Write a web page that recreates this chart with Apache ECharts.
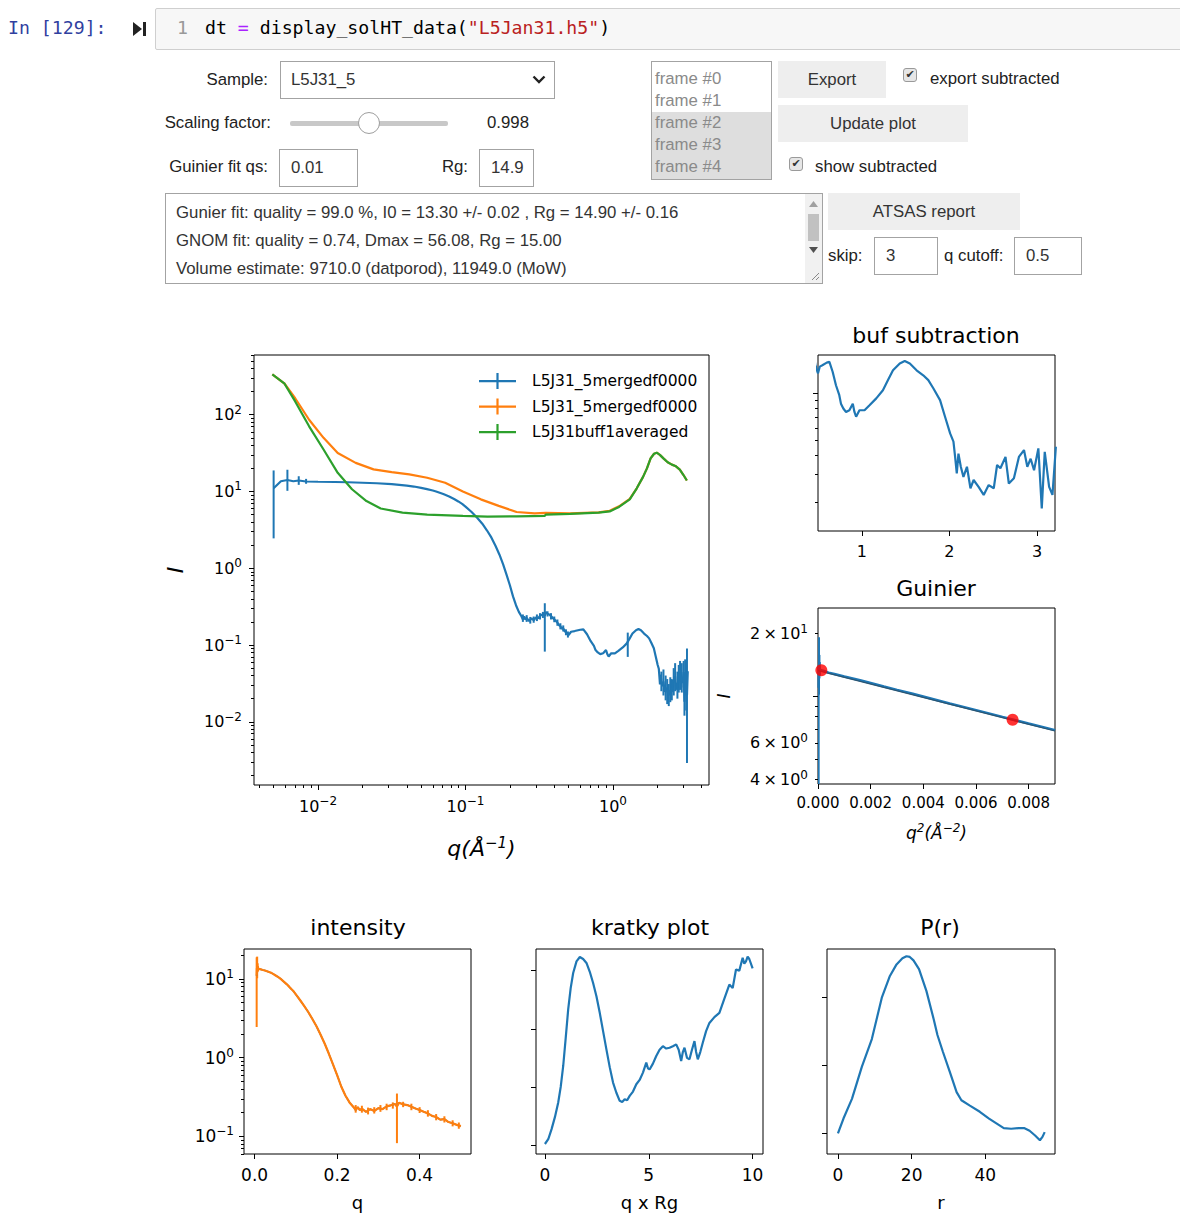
<!DOCTYPE html>
<html><head><meta charset="utf-8">
<script src="https://cdn.jsdelivr.net/npm/echarts@6/dist/echarts.min.js"></script>
<style>
html,body{margin:0;padding:0;background:#fff;width:1180px;height:1213px;overflow:hidden;position:relative}
#chart{position:absolute;left:0;top:0;width:1180px;height:1213px;z-index:0}
.w{position:absolute;font-family:"Liberation Sans",Arial,sans-serif;font-size:16.8px;color:#222;white-space:nowrap;z-index:2;line-height:20px}
.r{text-align:right}
.box{position:absolute;border:1px solid #a3a3a3;background:#fff;box-sizing:border-box;z-index:2;font-family:"Liberation Sans",Arial,sans-serif;font-size:16.8px;color:#333}
.btn{position:absolute;background:#eeeeee;box-sizing:border-box;z-index:2;font-family:"Liberation Sans",Arial,sans-serif;font-size:16.8px;color:#333;text-align:center}
.cb{position:absolute;width:14px;height:14px;box-sizing:border-box;border:1px solid #9a9a9a;border-radius:3px;background:#e6e6e6;z-index:2;font-size:11px;line-height:12px;text-align:center;color:#333;font-family:"DejaVu Sans",sans-serif}
.mono{font-family:"DejaVu Sans Mono",monospace;font-size:18.2px}
</style></head><body>
<div class="w mono" style="left:8px;top:18px;color:#303F9F">In [129]:</div>
<svg style="position:absolute;left:133px;top:22px;z-index:2" width="14" height="14"><path d="M0,0 L9,7 L0,14 Z" fill="#222"/><rect x="10" y="0" width="3" height="14" fill="#222"/></svg>
<div style="position:absolute;left:155px;top:8px;width:1030px;height:42px;background:#f7f7f7;border:1px solid #cfcfcf;box-sizing:border-box;border-radius:2px;z-index:1"></div>
<div class="w mono" style="left:177px;top:18px;color:#999">1</div>
<div class="w mono" style="left:205px;top:18px;color:#000">dt <span style="color:#AA22FF">=</span> display_solHT_data(<span style="color:#BA2121">"L5Jan31.h5"</span>)</div>

<div class="w r" style="left:160px;width:108px;top:70px">Sample:</div>
<div class="box" style="left:280px;top:61px;width:275px;height:38px;padding:8px 0 0 10px">L5J31_5
<svg style="position:absolute;right:8px;top:12px" width="14" height="12"><path d="M1.5,2.5 L7,8 L12.5,2.5" stroke="#222" stroke-width="2.4" fill="none"/></svg></div>

<div class="w r" style="left:110px;width:161px;top:113px">Scaling factor:</div>
<div style="position:absolute;left:290px;top:121px;width:158px;height:5px;background:#c8c8c8;border-radius:2px;z-index:2"></div>
<div style="position:absolute;left:358px;top:112px;width:22px;height:22px;box-sizing:border-box;border-radius:50%;background:#fff;border:1px solid #9e9e9e;z-index:3"></div>
<div class="w" style="left:487px;top:113px">0.998</div>

<div class="w r" style="left:110px;width:158px;top:157px">Guinier fit qs:</div>
<div class="box" style="left:279px;top:149px;width:79px;height:38px;padding:8px 0 0 11px">0.01</div>
<div class="w r" style="left:400px;width:68px;top:157px">Rg:</div>
<div class="box" style="left:479px;top:149px;width:55px;height:38px;padding:8px 0 0 11px">14.9</div>

<div class="box" style="left:651px;top:61px;width:121px;height:119px;overflow:hidden;color:#8a8a8a;line-height:22px">
<div style="padding-left:3px;margin-top:6px">frame #0</div>
<div style="padding-left:3px">frame #1</div>
<div style="padding-left:3px;background:#dedede">frame #2</div>
<div style="padding-left:3px;background:#dedede">frame #3</div>
<div style="padding-left:3px;background:#dedede;height:30px">frame #4</div>
</div>
<div class="btn" style="left:778px;top:61px;width:108px;height:37px;line-height:37px">Export</div>
<div class="cb" style="left:903px;top:68px">✔</div>
<div class="w" style="left:930px;top:69px">export subtracted</div>
<div class="btn" style="left:778px;top:105px;width:190px;height:37px;line-height:37px">Update plot</div>
<div class="cb" style="left:789px;top:157px">✔</div>
<div class="w" style="left:815px;top:157px">show subtracted</div>

<div class="box" style="left:165px;top:193px;width:658px;height:91px;line-height:28px;padding:5px 0 0 10px">
Gunier fit: quality = 99.0 %, I0 = 13.30 +/- 0.02 , Rg = 14.90 +/- 0.16<br>GNOM fit: quality = 0.74, Dmax = 56.08, Rg = 15.00<br>Volume estimate: 9710.0 (datporod), 11949.0 (MoW)
<div style="position:absolute;right:0;top:0;width:17px;height:89px;background:#f1f1f1"></div>
<svg style="position:absolute;right:4px;top:7px" width="9" height="6"><path d="M0,6 L4.5,0 L9,6Z" fill="#a0a0a0"/></svg>
<div style="position:absolute;right:3px;top:20px;width:11px;height:27px;background:#c1c1c1"></div>
<svg style="position:absolute;right:4px;top:53px" width="9" height="6"><path d="M0,0 L4.5,6 L9,0Z" fill="#505050"/></svg>
<svg style="position:absolute;right:2px;bottom:2px" width="10" height="10"><path d="M9,2 L2,9 M9,6 L6,9" stroke="#888" stroke-width="1"/></svg>
</div>
<div class="btn" style="left:828px;top:193px;width:192px;height:37px;line-height:37px">ATSAS report</div>
<div class="w" style="left:828px;top:246px">skip:</div>
<div class="box" style="left:874px;top:237px;width:64px;height:38px;padding:8px 0 0 11px">3</div>
<div class="w" style="left:944px;top:246px">q cutoff:</div>
<div class="box" style="left:1014px;top:237px;width:68px;height:38px;padding:8px 0 0 11px">0.5</div>

<div id="chart"></div>
<script>
// ---------------- data ----------------
// buffer-subtracted intensity [q, I]
const subtracted = [[0.0050,11.0],[0.0056,13.6],[0.0062,14.1],[0.0068,13.6],[0.0074,13.9],[0.0083,13.5],[0.0100,13.4],[0.0130,13.3],[0.0160,13.2],[0.0200,13.0],[0.0250,12.8],[0.0316,12.45],[0.0400,11.95],[0.0447,11.6],[0.0500,11.15],[0.0548,10.75],[0.0600,10.3],[0.0632,10.0],[0.0707,9.25],[0.0775,8.6],[0.0837,7.98],[0.0894,7.42],[0.0949,6.9],[0.1000,6.35],[0.1100,5.4],[0.1200,4.55],[0.1300,3.8],[0.1400,3.1],[0.1500,2.5],[0.1600,1.95],[0.1700,1.5],[0.1800,1.12],[0.1900,0.82],[0.2000,0.6],[0.2100,0.43],[0.2200,0.33],[0.2300,0.27],[0.2400,0.235],[0.2450,0.215],[0.2500,0.235],[0.2550,0.215],[0.2600,0.225],[0.2700,0.205],[0.2800,0.222],[0.2900,0.21],[0.3000,0.228],[0.3100,0.222],[0.3200,0.24],[0.3300,0.248],[0.3400,0.258],[0.3450,0.24],[0.3500,0.268],[0.3600,0.255],[0.3700,0.25],[0.3800,0.238],[0.3900,0.226],[0.4000,0.216],[0.4100,0.205],[0.4200,0.196],[0.4300,0.182],[0.4400,0.176],[0.4500,0.163],[0.4600,0.166],[0.4700,0.152],[0.4800,0.147],[0.4900,0.14],[0.5000,0.135],[0.52,0.149],[0.55,0.152],[0.60,0.158],[0.63,0.16],[0.667,0.138],[0.705,0.113],[0.743,0.0975],[0.762,0.086],[0.789,0.08],[0.82,0.076],[0.858,0.078],[0.897,0.086],[0.916,0.076],[0.935,0.0708],[0.973,0.078],[1.031,0.078],[1.088,0.084],[1.165,0.093],[1.241,0.105],[1.299,0.122],[1.356,0.141],[1.433,0.156],[1.49,0.162],[1.548,0.156],[1.625,0.141],[1.701,0.131],[1.759,0.122],[1.816,0.108],[1.893,0.0906],[1.95,0.0708],[2.008,0.0553],[2.046,0.049],[2.065,0.039],[2.084,0.0306],[2.103,0.041],[2.13,0.0337],[2.16,0.029],[2.2,0.0337],[2.24,0.0245],[2.276,0.0277],[2.333,0.025],[2.391,0.0222],[2.448,0.0257],[2.506,0.0245],[2.544,0.0346],[2.582,0.033],[2.64,0.039],[2.678,0.0263],[2.736,0.0284],[2.793,0.039],[2.851,0.0432],[2.889,0.0337],[2.927,0.038],[2.966,0.032],[3.015,0.0443],[3.054,0.0182],[3.088,0.0421],[3.138,0.025],[3.176,0.0222],[3.215,0.0454]];
// error bars of the subtracted data [q, low, high]
const subtractedErr = [[0.0050,2.45,18.8],[0.0062,10.2,19.2],[0.0074,12.2,15.8],[0.0083,12.6,14.6],[0.245,0.2,0.25],[0.26,0.2,0.245],[0.275,0.19,0.232],[0.29,0.195,0.235],[0.305,0.205,0.25],[0.32,0.215,0.26],[0.335,0.225,0.27],[0.345,0.082,0.35],[0.36,0.235,0.275],[0.38,0.215,0.26],[0.4,0.198,0.235],[0.42,0.178,0.215],[0.44,0.16,0.192],[0.46,0.15,0.18],[0.48,0.134,0.16],[0.495,0.125,0.15],[1.26,0.07,0.145],[2.13,0.025,0.045],[2.2,0.022,0.048],[2.276,0.019,0.04],[2.333,0.017,0.036],[2.391,0.016,0.031],[2.448,0.018,0.038],[2.506,0.019,0.036],[2.582,0.022,0.05],[2.64,0.025,0.058],[2.736,0.02,0.045],[2.793,0.024,0.055],[2.851,0.026,0.062],[2.927,0.024,0.058],[3.015,0.028,0.062],[3.054,0.012,0.028],[3.088,0.022,0.065],[3.138,0.014,0.04],[3.176,0.0029,0.09]];
// sample (orange) [q, I]
const sample = [[0.0049,336],[0.0059,257],[0.0070,164],[0.0087,86],[0.0109,50],[0.0136,31.8],[0.018,23.6],[0.0238,19.4],[0.0316,17.9],[0.0416,16.7],[0.055,15.1],[0.0728,13.0],[0.096,10.0],[0.127,7.9],[0.168,6.5],[0.222,5.4],[0.294,5.2],[0.35,5.25],[0.514,5.2],[0.80,5.35],[0.95,5.6],[1.1,6.4],[1.3,8.0],[1.45,11],[1.6,15.5],[1.7,20],[1.8,27],[1.9,31],[1.98,32],[2.08,30],[2.2,27],[2.35,24],[2.51,22.4],[2.65,21.5],[2.84,19.3],[3.0,16.5],[3.17,13.9]];
// buffer (green) [q, I]
const buffer = [[0.0049,336],[0.0059,257],[0.0070,149],[0.0087,70.6],[0.0109,35.2],[0.0136,17.5],[0.0170,10.7],[0.0213,7.5],[0.0266,6.0],[0.0374,5.3],[0.055,5.0],[0.096,4.8],[0.141,4.7],[0.222,4.75],[0.345,4.8],[0.35,5.0],[0.514,5.1],[0.80,5.3],[0.95,5.5],[1.1,6.3],[1.3,7.9],[1.45,11],[1.6,15.5],[1.7,20],[1.8,27],[1.9,31],[1.98,32],[2.08,30],[2.2,27],[2.35,24],[2.51,22.4],[2.65,21.5],[2.84,19.3],[3.0,16.5],[3.17,13.9]];
const seriesNames = ['L5J31_5mergedf0000','L5J31_5mergedf0000 ','L5J31buff1averaged'];
// Guinier fit: end points of fitted line [q^2, I] and fit-range markers
const guinierFit = [[0,13.3],[0.009,6.83]];
const guinierMarks = [[0.000127,13.35],[0.00739,7.73]];
// Kratky plot [q*Rg, (q*Rg)^2 I]
const kratky = [[0,0.09],[0.16,0.5],[0.32,1.37],[0.48,2.4],[0.64,3.66],[0.76,5.0],[0.88,6.8],[1.0,9.2],[1.12,11.66],[1.24,13.5],[1.36,14.8],[1.52,15.8],[1.68,16.17],[1.84,16.0],[2.0,15.66],[2.16,14.9],[2.32,13.94],[2.48,12.8],[2.64,11.37],[2.8,9.8],[2.96,8.23],[3.12,6.7],[3.28,5.37],[3.44,4.5],[3.6,3.8],[3.72,3.7],[3.84,3.94],[3.96,3.85],[4.08,4.23],[4.24,4.6],[4.4,5.23],[4.56,5.6],[4.72,6.23],[4.88,7.09],[4.96,6.6],[5.04,6.5],[5.2,7.0],[5.36,7.66],[5.52,8.2],[5.68,8.5],[5.84,8.3],[6.0,8.37],[6.16,8.5],[6.32,8.66],[6.44,8.2],[6.56,7.23],[6.64,8.0],[6.72,8.37],[6.84,7.5],[6.96,7.37],[7.08,8.2],[7.2,8.94],[7.28,8.0],[7.36,7.37],[7.48,8.0],[7.6,8.8],[7.76,9.8],[7.92,10.5],[8.16,11.0],[8.4,11.37],[8.64,12.6],[8.88,13.8],[9.04,13.5],[9.2,15.1],[9.36,15.0],[9.52,16.1],[9.6,15.6],[9.68,15.8],[9.76,16.2],[9.84,16.0],[10.0,15.2]];
// P(r) [r, P]
const pr = [[0,0],[1.5,0.22],[3.8,0.51],[6.5,0.985],[9.2,1.39],[11.9,2.0],[14.1,2.32],[15.9,2.49],[17.5,2.58],[18.6,2.61],[19.5,2.6],[20.5,2.55],[22,2.42],[24,2.1],[26,1.68],[27,1.45],[28.5,1.2],[30.4,0.9],[32.2,0.61],[33.5,0.49],[35.8,0.41],[38.5,0.32],[41,0.22],[43,0.15],[45,0.08],[47,0.07],[49,0.08],[50.5,0.08],[52,0.04],[53.5,-0.03],[54.8,-0.1],[55.5,-0.05],[56.1,0.02]];
// tick values
const mainXTicks = [0.01, 0.1, 1];
const mainYTicks = [0.01, 0.1, 1, 10, 100];
const bufXTicks = [1, 2, 3];
const bufYTicks = [0.1];
const guinierXTicks = [0, 0.002, 0.004, 0.006, 0.008];
const guinierYTicks = [10];
const guinierYLabels = [4, 6, 20];
const intensityXTicks = [0, 0.2, 0.4];
const intensityYTicks = [0.1, 1, 10];
const kratkyXTicks = [0, 5, 10];
const kratkyYTicks = [0, 5, 10, 15];
const prXTicks = [0, 20, 40];
const prYTicks = [0, 1, 2];

// ---------------- helpers ----------------
function logMinors(lo, hi) {
  const out = [];
  for (let e = Math.floor(Math.log10(lo)); e <= Math.ceil(Math.log10(hi)); e++) {
    for (let k = 2; k <= 9; k++) { const v = +(k * Math.pow(10, e)).toPrecision(6); if (v >= lo && v <= hi) out.push(v); }
  }
  return out;
}
const F = 'DejaVu Sans';
const TXT = '#000';
function sup(e) { return e < 0 ? '\u2212' + (-e) : '' + e; }
function logFmt(v) { const e = Math.round(Math.log10(v)); return '{b|10}{s|' + sup(e) + '}'; }
function mantFmt(v) { const e = Math.floor(Math.log10(v) + 1e-9); const m = Math.round(v / Math.pow(10, e)); return '{b|' + m + '\u2009\u00d7\u200910}{s|' + e + '}'; }
function rich(fs) { return { b: { fontFamily: F, fontSize: fs, color: TXT }, s: { fontFamily: F, fontSize: Math.round(fs * 0.72), color: TXT, padding: [0, 0, Math.round(fs * 0.6), 0] } }; }

const grids = [
  { left: 254, top: 355, width: 455, height: 430 },   // main
  { left: 818, top: 355, width: 237, height: 176 },   // buf subtraction
  { left: 818, top: 608, width: 237, height: 176 },   // Guinier
  { left: 244, top: 949, width: 227, height: 205 },   // intensity
  { left: 536, top: 949, width: 227, height: 205 },   // kratky
  { left: 827, top: 949, width: 228, height: 205 }    // P(r)
].map(g => Object.assign({ show: true, borderColor: '#000', borderWidth: 1, backgroundColor: 'transparent', containLabel: false }, g));

const xAxes = [], yAxes = [];
function addAxis(list, gi, base, ticks, minors, label, extra) {
  const idx = list.length;
  const pos = list === xAxes ? 'bottom' : 'left';
  list.push(Object.assign({
    gridIndex: gi, position: pos,
    axisLine: { show: false, onZero: false },
    splitLine: { show: false },
    axisTick: { show: ticks.length > 0, customValues: ticks, length: 5, lineStyle: { color: '#000', width: 1 } },
    axisLabel: label ? Object.assign({ show: true, showMinLabel: true, showMaxLabel: true, color: TXT, fontFamily: F, fontSize: 16, hideOverlap: false }, label) : { show: false }
  }, base, extra || {}));
  if (minors && minors.length) {
    list.push(Object.assign({
      gridIndex: gi, position: pos, offset: 0,
      axisLine: { show: false, onZero: false }, splitLine: { show: false }, axisLabel: { show: false },
      axisTick: { show: true, customValues: minors, length: 3, lineStyle: { color: '#000', width: 1 } }
    }, base));
  }
  return idx;
}

// main
const mxMin = 0.00368, mxMax = 4.48, myMin = 0.0015, myMax = 600;
const mX = addAxis(xAxes, 0, { type: 'log', logBase: 10, min: mxMin, max: mxMax }, mainXTicks, logMinors(mxMin, mxMax),
  { customValues: mainXTicks, formatter: logFmt, margin: 10, rich: rich(16) },
  { name: 'q(\u00c5{s|\u22121})', nameLocation: 'middle', nameGap: 50, nameTextStyle: { fontFamily: F, fontSize: 22, fontStyle: 'italic', color: TXT, rich: { s: { fontFamily: F, fontSize: 15, fontStyle: 'italic', color: TXT, padding: [0, 0, 12, 0] } } } });
const mY = addAxis(yAxes, 0, { type: 'log', logBase: 10, min: myMin, max: myMax }, mainYTicks, logMinors(myMin, myMax),
  { customValues: mainYTicks, formatter: logFmt, margin: 12, rich: rich(16) },
  { name: 'I', nameLocation: 'middle', nameGap: 68, nameRotate: 90, nameTextStyle: { fontFamily: F, fontSize: 22, fontStyle: 'italic', color: TXT } });
// buf
const bX = addAxis(xAxes, 1, { type: 'value', min: 0.5, max: 3.205 }, bufXTicks, null,
  { customValues: bufXTicks, margin: 12, formatter: v => String(v) });
const bY = addAxis(yAxes, 1, { type: 'log', logBase: 10, min: 0.013, max: 0.177 }, bufYTicks, logMinors(0.013, 0.177), null);
// guinier
const gX = addAxis(xAxes, 2, { type: 'value', min: 0, max: 0.009 }, guinierXTicks, null,
  { customValues: guinierXTicks, margin: 11, fontSize: 15, formatter: v => v.toFixed(3) },
  { name: 'q{s|2}(\u00c5{s|\u22122})', nameLocation: 'middle', nameGap: 38, nameTextStyle: { fontFamily: F, fontSize: 17, fontStyle: 'italic', color: TXT, rich: { s: { fontFamily: F, fontSize: 12, fontStyle: 'italic', color: TXT, padding: [0, 0, 9, 0] } } } });
const gY = addAxis(yAxes, 2, { type: 'log', logBase: 10, min: 3.81, max: 26.5 }, guinierYTicks, logMinors(3.81, 26.5),
  { customValues: guinierYLabels, formatter: mantFmt, margin: 10, rich: rich(16) },
  { name: 'I', nameLocation: 'middle', nameGap: 86, nameRotate: 90, nameTextStyle: { fontFamily: F, fontSize: 17, fontStyle: 'italic', color: TXT } });
// intensity
const iX = addAxis(xAxes, 3, { type: 'value', min: -0.0257, max: 0.5245 }, intensityXTicks, null,
  { customValues: intensityXTicks, margin: 12, fontSize: 17, formatter: v => v.toFixed(1) },
  { name: 'q', nameLocation: 'middle', nameGap: 39, nameTextStyle: { fontFamily: F, fontSize: 18, color: TXT } });
const iY = addAxis(yAxes, 3, { type: 'log', logBase: 10, min: 0.0597, max: 24 }, intensityYTicks, logMinors(0.0597, 24),
  { customValues: intensityYTicks, formatter: logFmt, margin: 10, rich: rich(17) });
// kratky
const kX = addAxis(xAxes, 4, { type: 'value', min: -0.43, max: 10.5 }, kratkyXTicks, null,
  { customValues: kratkyXTicks, margin: 12, fontSize: 17, formatter: v => String(v) },
  { name: 'q x Rg', nameLocation: 'middle', nameGap: 39, nameTextStyle: { fontFamily: F, fontSize: 18, color: TXT } });
const kY = addAxis(yAxes, 4, { type: 'value', min: -0.77, max: 16.86 }, kratkyYTicks, null, null);
// P(r)
const pX = addAxis(xAxes, 5, { type: 'value', min: -2.97, max: 58.9 }, prXTicks, null,
  { customValues: prXTicks, margin: 12, fontSize: 17, formatter: v => String(v) },
  { name: 'r', nameLocation: 'middle', nameGap: 39, nameTextStyle: { fontFamily: F, fontSize: 18, color: TXT } });
const pY = addAxis(yAxes, 5, { type: 'value', min: -0.302, max: 2.717 }, prYTicks, null, null);

const BLUE = '#1f77b4', ORANGE = '#ff7f0e', GREEN = '#2ca02c';
function lineS(name, data, xi, yi, color, w, z) {
  return { type: 'line', name, data, xAxisIndex: xi, yAxisIndex: yi, showSymbol: false, symbol: 'none', clip: true, silent: true,
    lineStyle: { color, width: w }, itemStyle: { color }, animation: false, z: z || 2 };
}
function errS(data, xi, yi, color) {
  return { type: 'custom', data, xAxisIndex: xi, yAxisIndex: yi, clip: true, silent: true, animation: false,
    encode: { x: 0, y: [1, 2] },
    renderItem(params, api) {
      const a = api.coord([api.value(0), api.value(1)]);
      const b = api.coord([api.value(0), api.value(2)]);
      return { type: 'line', shape: { x1: a[0], y1: a[1], x2: b[0], y2: b[1] }, style: { stroke: color, lineWidth: 2 } };
    } };
}
const intensityData = subtracted.filter(p => p[0] <= 0.5);
const intensityErr = subtractedErr.filter(p => p[0] <= 0.5);
const guinierData = subtracted.filter(p => p[0] < 0.096).map(p => [p[0] * p[0], p[1]]);
const guinierErr = subtractedErr.filter(p => p[0] < 0.096).map(p => [p[0] * p[0], p[1], p[2]]);

const series = [
  lineS(seriesNames[0], subtracted, mX, mY, BLUE, 2.2),
  errS(subtractedErr, mX, mY, BLUE),
  lineS(seriesNames[1], sample, mX, mY, ORANGE, 2.2),
  lineS(seriesNames[2], buffer, mX, mY, GREEN, 2.2),
  lineS('buf', subtracted, bX, bY, BLUE, 2.2),
  lineS('guinier', guinierData, gX, gY, BLUE, 2.5),
  errS(guinierErr, gX, gY, BLUE),
  lineS('fit', guinierFit, gX, gY, '#2b5572', 1.2, 3),
  { type: 'scatter', name: 'fit range', data: guinierMarks, xAxisIndex: gX, yAxisIndex: gY, symbolSize: 12, itemStyle: { color: '#ff0000' }, z: 4, silent: true, animation: false },
  lineS('intensity', intensityData, iX, iY, BLUE, 1.5),
  lineS('intensity err', intensityData, iX, iY, ORANGE, 2.2),
  errS(intensityErr, iX, iY, ORANGE),
  lineS('kratky', kratky, kX, kY, BLUE, 2.2),
  lineS('P(r)', pr, pX, pY, BLUE, 2.2)
];

function title(text, x, y) { return { type: 'text', x, y, style: { text, fill: TXT, font: '22px "DejaVu Sans"', textAlign: 'center', textVerticalAlign: 'middle' }, silent: true }; }

const option = {
  animation: false,
  backgroundColor: 'transparent',
  grid: grids, xAxis: xAxes, yAxis: yAxes, series,
  legend: {
    data: seriesNames, orient: 'vertical', left: 479, top: 373, padding: 0, itemGap: 9.5,
    itemWidth: 37, itemHeight: 16, icon: 'path://M0,7h37v2.2h-37z M17.4,0h2.2v16h-2.2z',
    textStyle: { fontFamily: F, fontSize: 15.5, color: TXT, padding: [0, 0, 0, 11] },
    selectedMode: false, backgroundColor: 'transparent'
  },
  graphic: [
    title('buf subtraction', 936, 335), title('Guinier', 936, 588),
    title('intensity', 358, 927), title('kratky plot', 650, 927), title('P(r)', 940, 927)
  ]
};
const chart = echarts.init(document.getElementById('chart'), null, { renderer: 'svg' });
chart.setOption(option);
</script>
</body></html>
